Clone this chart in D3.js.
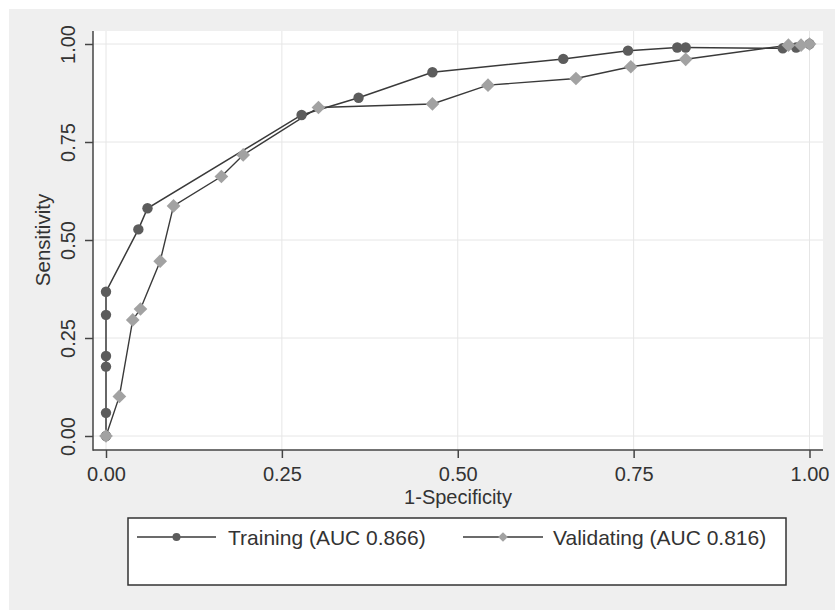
<!DOCTYPE html>
<html>
<head>
<meta charset="utf-8">
<script src="https://cdn.jsdelivr.net/npm/d3@7"></script>
<style>
  html, body { margin: 0; padding: 0; background: #ffffff; }
  svg { display: block; font-family: "Liberation Sans", Arial, sans-serif; }
</style>
</head>
<body>
<svg id="chart" width="835" height="610"></svg>
<script>
// ---- data ----
const trainingX = [0, 0, 0, 0, 0, 0, 0.046, 0.059, 0.278, 0.359, 0.464, 0.650, 0.742, 0.812, 0.824, 0.962, 0.981, 1.0];
const trainingY = [0, 0.059, 0.177, 0.204, 0.309, 0.368, 0.527, 0.581, 0.819, 0.863, 0.928, 0.962, 0.983, 0.991, 0.991, 0.989, 0.991, 1.0];
const validX = [0, 0.019, 0.038, 0.049, 0.077, 0.096, 0.164, 0.195, 0.302, 0.464, 0.543, 0.668, 0.746, 0.824, 0.970, 0.988, 1.0];
const validY = [0, 0.101, 0.296, 0.324, 0.446, 0.587, 0.662, 0.717, 0.838, 0.847, 0.895, 0.912, 0.942, 0.961, 0.997, 0.997, 1.0];
const xTicks = [0, 0.25, 0.5, 0.75, 1.0];
const yTicks = [0, 0.25, 0.5, 0.75, 1.0];
const seriesNames = ["Training (AUC 0.866)", "Validating (AUC 0.816)"];
const xTitle = "1-Specificity";
const yTitle = "Sensitivity";

// ---- layout ----
const svg = d3.select("#chart");
const plot = { left: 93, top: 31, right: 823, bottom: 450 };
const x = d3.scaleLinear().domain([0, 1]).range([106, 809.5]);
const y = d3.scaleLinear().domain([0, 1]).range([436, 44]);
const fmt = d3.format(".2f");
const textColor = "#333333";
const axisColor = "#444444";

// outer background
svg.append("rect").attr("x", 9).attr("y", 9).attr("width", 826).attr("height", 601).attr("fill", "#efefef");
// plot region
svg.append("rect").attr("x", plot.left).attr("y", plot.top)
  .attr("width", plot.right - plot.left).attr("height", plot.bottom - plot.top).attr("fill", "#ffffff");

// gridlines
svg.append("g").selectAll("line").data(xTicks).join("line")
  .attr("x1", d => x(d)).attr("x2", d => x(d))
  .attr("y1", plot.top).attr("y2", plot.bottom)
  .attr("stroke", "#e6e6e6").attr("stroke-width", 1);
svg.append("g").selectAll("line").data(yTicks).join("line")
  .attr("y1", d => y(d)).attr("y2", d => y(d))
  .attr("x1", plot.left).attr("x2", plot.right)
  .attr("stroke", "#e6e6e6").attr("stroke-width", 1);

// x axis
const gx = svg.append("g").attr("transform", `translate(0,${plot.bottom})`)
  .call(d3.axisBottom(x).tickValues(xTicks).tickFormat(fmt).tickSize(8));
gx.select(".domain").remove();
gx.selectAll(".tick line").attr("stroke", axisColor).attr("stroke-width", 1.5);
gx.selectAll(".tick text").attr("y", 31).attr("dy", 0)
  .attr("fill", textColor).style("font-size", "20px").style("font-family", "Liberation Sans, Arial, sans-serif");

// y axis
const gy = svg.append("g").attr("transform", `translate(${plot.left},0)`)
  .call(d3.axisLeft(y).tickValues(yTicks).tickFormat(fmt).tickSize(8));
gy.select(".domain").remove();
gy.selectAll(".tick line").attr("stroke", axisColor).attr("stroke-width", 1.5);
gy.selectAll(".tick text")
  .attr("x", 0).attr("y", -18).attr("dy", 0)
  .attr("text-anchor", "middle")
  .attr("transform", "rotate(-90)")
  .attr("fill", textColor).style("font-size", "20px").style("font-family", "Liberation Sans, Arial, sans-serif");

// axis lines
svg.append("line").attr("x1", plot.left).attr("x2", plot.left).attr("y1", plot.top).attr("y2", plot.bottom + 0.75)
  .attr("stroke", axisColor).attr("stroke-width", 1.5);
svg.append("line").attr("x1", plot.left).attr("x2", plot.right).attr("y1", plot.bottom).attr("y2", plot.bottom)
  .attr("stroke", axisColor).attr("stroke-width", 1.5);

// axis titles
svg.append("text").attr("x", 458).attr("y", 503.5).attr("text-anchor", "middle")
  .attr("fill", textColor).style("font-size", "20px").text(xTitle);
svg.append("text").attr("transform", "translate(50,240) rotate(-90)").attr("text-anchor", "middle")
  .attr("fill", textColor).style("font-size", "20.5px").text(yTitle);

// series
const training = trainingX.map((d, i) => [d, trainingY[i]]);
const validating = validX.map((d, i) => [d, validY[i]]);
const line = d3.line().x(d => x(d[0])).y(d => y(d[1]));
const lineColor = "#3a3a3a";
const trainColor = "#5c5c5c";
const validColor = "#a2a2a2";
const diamond = d3.symbol().type(d3.symbolDiamond2).size(120);
const circle = d3.symbol().type(d3.symbolCircle).size(85);

svg.append("path").datum(training).attr("d", line).attr("fill", "none").attr("stroke", lineColor).attr("stroke-width", 1.5);
svg.append("path").datum(validating).attr("d", line).attr("fill", "none").attr("stroke", lineColor).attr("stroke-width", 1.4);

svg.append("g").selectAll("path").data(training).join("path")
  .attr("d", circle).attr("transform", d => `translate(${x(d[0])},${y(d[1])})`)
  .attr("fill", trainColor);
svg.append("g").selectAll("path").data(validating).join("path")
  .attr("d", diamond).attr("transform", d => `translate(${x(d[0])},${y(d[1])})`)
  .attr("fill", validColor);

// legend
svg.append("rect").attr("x", 128).attr("y", 518).attr("width", 658).attr("height", 67)
  .attr("fill", "#ffffff").attr("stroke", "#333333").attr("stroke-width", 1.5);
const legendItems = [
  { name: seriesNames[0], x1: 137, x2: 216, tx: 228, sym: d3.symbol().type(d3.symbolCircle).size(50), color: trainColor },
  { name: seriesNames[1], x1: 463, x2: 543, tx: 553, sym: d3.symbol().type(d3.symbolDiamond2).size(60), color: validColor }
];
const lg = svg.append("g").selectAll("g").data(legendItems).join("g");
lg.append("line").attr("x1", d => d.x1).attr("x2", d => d.x2).attr("y1", 537).attr("y2", 537)
  .attr("stroke", lineColor).attr("stroke-width", 1.5);
lg.append("path").attr("d", d => d.sym()).attr("transform", d => `translate(${(d.x1 + d.x2) / 2},537)`)
  .attr("fill", d => d.color);
lg.append("text").attr("x", d => d.tx).attr("y", 545).attr("fill", textColor)
  .style("font-size", "21px").text(d => d.name);
</script>
</body>
</html>
